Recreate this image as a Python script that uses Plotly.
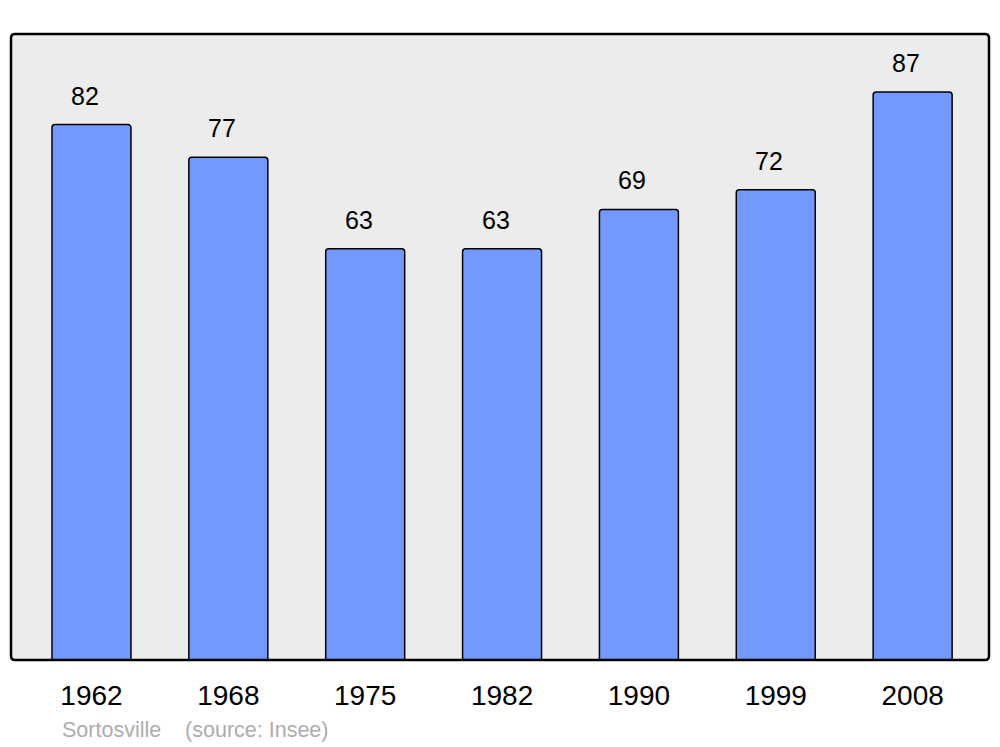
import plotly.graph_objects as go

years = ["1962", "1968", "1975", "1982", "1990", "1999", "2008"]
population = [82, 77, 63, 63, 69, 72, 87]
source_text = "Sortosville\u00a0\u00a0\u00a0\u00a0(source: Insee)"

W, H = 1000, 747
L, R, T, B = 11, 11, 34, 87
pw, ph = W - L - R, H - T - B

positions = list(range(len(years)))

fig = go.Figure()
fig.add_trace(go.Bar(
    x=positions, y=population, width=0.577,
    marker=dict(color="#7399ff", line=dict(color="black", width=1.5), cornerradius=3),
    hoverinfo="skip",
))

for xi, v in zip(positions, population):
    fig.add_annotation(x=xi, y=v, text=str(v), showarrow=False, yanchor="middle",
                       yshift=29, xshift=-6.5,
                       font=dict(size=25, color="black", family="Liberation Sans, Arial"))

fig.add_annotation(xref="paper", yref="paper", x=(60 - L) / pw, y=(660 - 730) / ph,
                   xanchor="left", yanchor="middle", showarrow=False, text=source_text,
                   font=dict(size=21.5, color="#adadad", family="Liberation Sans, Arial"))

def rounded_path(r_px):
    rx, ry = r_px / pw, r_px / ph
    return (f"M {rx},0 L {1-rx},0 Q 1,0 1,{ry} L 1,{1-ry} Q 1,1 {1-rx},1 "
            f"L {rx},1 Q 0,1 0,{1-ry} L 0,{ry} Q 0,0 {rx},0 Z")

fig.add_shape(type="path", xref="paper", yref="paper", path=rounded_path(4),
              fillcolor="#ececec", line=dict(width=0), layer="below")
fig.add_shape(type="path", xref="paper", yref="paper", path=rounded_path(4),
              fillcolor="rgba(0,0,0,0)", line=dict(color="black", width=2.5), layer="above")

fig.update_layout(
    width=W, height=H, margin=dict(l=L, r=R, t=T, b=B),
    paper_bgcolor="white", plot_bgcolor="white", showlegend=False,
    font=dict(family="Liberation Sans, Arial", color="black"),
    xaxis=dict(range=[-0.588, 6.558], tickvals=positions, ticktext=years,
               showgrid=False, zeroline=False, showline=False,
               ticks="outside", ticklen=10, tickcolor="rgba(0,0,0,0)",
               tickfont=dict(size=28, color="black"), fixedrange=True),
    yaxis=dict(range=[0, 95.87], visible=False, showgrid=False, fixedrange=True),
)

fig.write_html("out.html", config={"displayModeBar": False},
               post_script="document.body.style.margin='0px';document.body.style.overflow='hidden';")
